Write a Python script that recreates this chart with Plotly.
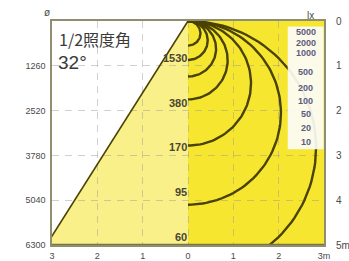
import math
import plotly.graph_objects as go

# ---------------- data ----------------
half_angle_deg = 32
distances = [1, 2, 3, 4, 5]
diameter_labels = ["1260", "2520", "3780", "5040", "6300"]
center_lux_labels = ["1530", "380", "170", "95", "60"]
x_ticks = [-3, -2, -1, 0, 1, 2, 3]
x_tick_labels = ["3", "2", "1", "0", "1", "2", "3m"]
right_ticks = [0, 1, 2, 3, 4, 5]
right_tick_labels = ["0", "1", "2", "3", "4", "5m"]
# isolux curves: depth (m) where each curve meets the beam axis
curve_lux = [5000, 2000, 1000, 500, 200, 100, 50]
curve_depth = [0.55, 0.87, 1.24, 1.75, 2.78, 4.10, 5.65]
# lux scale column
scale_labels = ["5000", "2000", "1000", "500", "200", "100", "50", "20", "10"]
scale_pos = [0.25, 0.48, 0.72, 1.14, 1.50, 1.79, 2.08, 2.39, 2.70]

PALE = "#f9f08a"
BRIGHT = "#f6e630"
CURVE = "#4a4200"
FRAME = "#8f8f70"
TXT = "#4a4a4a"
FONT = "Liberation Sans"

fig = go.Figure()

# isolux curves (right half)
for lux, d in zip(curve_lux, curve_depth):
    r = d / 2.0
    n = 80
    xs = [r * math.sin(math.pi * i / n) for i in range(n + 1)]
    ys = [r - r * math.cos(math.pi * i / n) for i in range(n + 1)]
    fig.add_trace(go.Scatter(x=xs, y=ys, mode="lines", name=f"{lux} lx",
                             line=dict(color=CURVE, width=2.4),
                             hoverinfo="skip", showlegend=False))

# beam edge line
edge_x = -distances[-1] * math.tan(math.radians(half_angle_deg))
fig.add_trace(go.Scatter(x=[0, edge_x], y=[0, distances[-1]], mode="lines",
                         line=dict(color=CURVE, width=1.6),
                         hoverinfo="skip", showlegend=False))
# dummy trace for right axis
fig.add_trace(go.Scatter(x=[0], y=[0], yaxis="y2", mode="markers",
                         marker=dict(opacity=0), hoverinfo="skip",
                         showlegend=False))

shapes = [
    dict(type="rect", xref="x", yref="y", x0=0, x1=3, y0=0, y1=5,
         fillcolor=BRIGHT, line=dict(width=0), layer="below"),
    dict(type="path", xref="x", yref="y",
         path=f"M 0 0 L {edge_x} {distances[-1]} L 0 {distances[-1]} Z",
         fillcolor=PALE, line=dict(width=0), layer="below"),
    dict(type="rect", xref="x", yref="y", x0=2.2, x1=2.99, y0=0.12, y1=2.86,
         fillcolor="rgba(252,252,248,0.92)", line=dict(width=0), layer="above"),
    dict(type="line", xref="paper", yref="y", x0=0, x1=1, y0=5, y1=5,
         line=dict(color="#7a7440", width=2.5), layer="above"),
]

annotations = [
    dict(text="ø", xref="paper", yref="paper", x=-0.037, y=1.07,
         showarrow=False, font=dict(family=FONT, size=10, color=TXT)),
    dict(text="lx", xref="x", yref="paper", x=2.71, y=1.06,
         showarrow=False, font=dict(family=FONT, size=10, color=TXT)),
    dict(text="1/2照度角", xref="x", yref="y", x=-2.9, y=0.40,
         xanchor="left", yanchor="middle", showarrow=False,
         font=dict(family="Noto Sans CJK JP", size=16, color="#3a3a3a")),
    dict(text=f"{half_angle_deg}°", xref="x", yref="y", x=-2.92, y=0.93,
         xanchor="left", yanchor="middle", showarrow=False,
         font=dict(family=FONT, size=19, color="#3a3a3a")),
]
for d, lab in zip(distances, center_lux_labels):
    annotations.append(dict(text=f"<b>{lab}</b>", xref="x", yref="y", x=0.03, y=d,
                            xanchor="right", yanchor="bottom", showarrow=False,
                            font=dict(family=FONT, size=11, color="#4a4630")))
for p, lab in zip(scale_pos, scale_labels):
    annotations.append(dict(text=f"<b>{lab}</b>", xref="x", yref="y", x=2.6, y=p,
                            xanchor="center", yanchor="middle", showarrow=False,
                            font=dict(family=FONT, size=9, color="#5c5c80")))

fig.update_layout(
    width=349, height=261, autosize=False,
    margin=dict(l=52, r=25, t=21, b=16, pad=0),
    paper_bgcolor="white", plot_bgcolor="white",
    shapes=shapes, annotations=annotations,
    xaxis=dict(range=[-3, 3], tickvals=x_ticks, ticktext=x_tick_labels,
               showgrid=True, gridcolor="rgba(150,150,150,0.45)", griddash="7px,6px",
               zeroline=False, showline=True, mirror=True, linecolor=FRAME, linewidth=1.5,
               ticks="outside", ticklen=1, tickcolor="rgba(0,0,0,0)", automargin=False,
               tickfont=dict(family=FONT, size=9, color=TXT), fixedrange=True),
    yaxis=dict(range=[5, 0], tickvals=distances, ticktext=diameter_labels,
               showgrid=True, gridcolor="rgba(150,150,150,0.45)", griddash="7px,6px",
               zeroline=False, showline=True, mirror=True, linecolor=FRAME, linewidth=1.5,
               ticks="outside", ticklen=3, tickcolor="rgba(0,0,0,0)", automargin=False,
               tickfont=dict(family=FONT, size=9, color=TXT), fixedrange=True),
    yaxis2=dict(range=[5, 0], overlaying="y", side="right", tickvals=right_ticks,
                ticktext=right_tick_labels, showgrid=False, zeroline=False,
                ticks="outside", ticklen=9, tickcolor="rgba(0,0,0,0)", automargin=False,
                tickfont=dict(family=FONT, size=10, color=TXT), fixedrange=True),
)

post = ("document.body.style.margin='0';document.body.style.padding='0';"
        "document.body.style.overflow='hidden';"
        "var gd=document.getElementById('{plot_id}');"
        "Plotly.relayout(gd,{width:349,height:261});")

fig.write_html("out.html", config={"responsive": False, "displayModeBar": False},
               default_width="349px", default_height="261px", post_script=post)
